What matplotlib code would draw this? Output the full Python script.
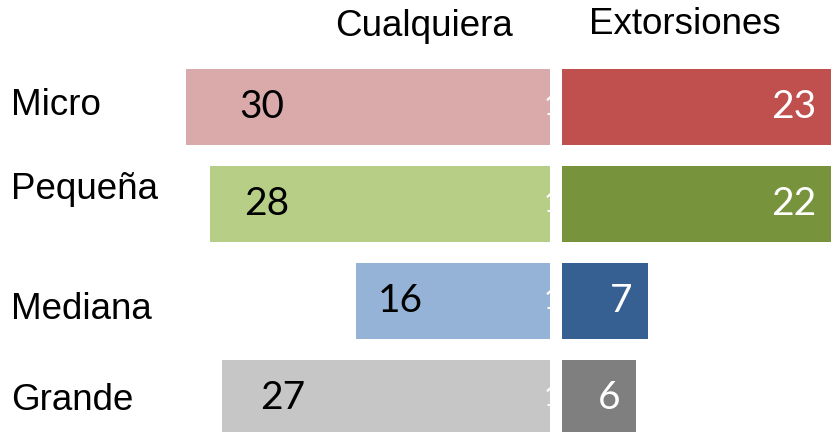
import matplotlib
matplotlib.use('Agg')
from matplotlib import pyplot as plt
from matplotlib.transforms import offset_copy

# data
sizes = ['Micro', 'Pequeña', 'Mediana', 'Grande']
cualquiera = [30, 28, 16, 27]
extorsiones = [23, 22, 7, 6]
panel_titles = ['Cualquiera', 'Extorsiones']

light_colors = ['#DAAAAA', '#B7CE87', '#95B3D7', '#C6C6C6']
dark_colors = ['#C0504D', '#77933C', '#376092', '#7F7F7F']

W, H = 831, 432
fig = plt.figure(figsize=(W / 100, H / 100), dpi=100)

# left panel (bars grow leftwards from x=550 px), right panel from x=562 px
ax_l = fig.add_axes([150 / W, 0, 400 / W, 1])
ax_r = fig.add_axes([562 / W, 0, 269 / W, 1])

rows = list(range(len(sizes)))
for ax in (ax_l, ax_r):
    ax.set_ylim(3.351, -1.103)
    ax.axis('off')
ax_l.set_xlim(400 / 12.15, 0)
ax_r.set_xlim(0, 269 / 12.25)

ax_l.barh(rows, cualquiera, height=0.784, color=light_colors)
ax_r.barh(rows, extorsiones, height=0.784, color=dark_colors)

num_font = dict(family=['Lato', 'DejaVu Sans'], fontsize=28)
left_pad = [76, 57, 45, 61]
for i, v in enumerate(cualquiera):
    ax_l.annotate(str(v), xy=(v, i), xytext=(left_pad[i], 0), textcoords='offset pixels',
                  ha='center', va='center', color='black', **num_font)
    # clipped white label peeking at the inner edge
    tr = offset_copy(ax_l.transData, fig=fig, x=-6, y=0, units='dots')
    ax_l.text(0, i, '1', transform=tr, ha='left', va='center', color='white',
              family=['Lato', 'DejaVu Sans'], fontsize=20, clip_on=True)

xmax = ax_r.get_xlim()[1]
for i, v in enumerate(extorsiones):
    ax_r.annotate(str(v), xy=(min(v, xmax), i), xytext=(-15, 0), textcoords='offset pixels',
                  ha='right', va='center', color='white', **num_font)

txt_font = dict(family=['Liberation Sans', 'DejaVu Sans'], fontsize=26.5)
label_shift = [1, 14, -9, -3]
for i, name in enumerate(sizes):
    ax_l.annotate(name, xy=(11, i), xycoords=('figure pixels', 'data'),
                  xytext=(0, label_shift[i]), textcoords='offset pixels',
                  ha='left', va='center', annotation_clip=False, **txt_font)

fig.text(424 / W, 1 - 27 / H, panel_titles[0], ha='center', va='center', **txt_font)
fig.text(685 / W, 1 - 25 / H, panel_titles[1], ha='center', va='center', **txt_font)

fig.savefig('out.png', dpi=100)
